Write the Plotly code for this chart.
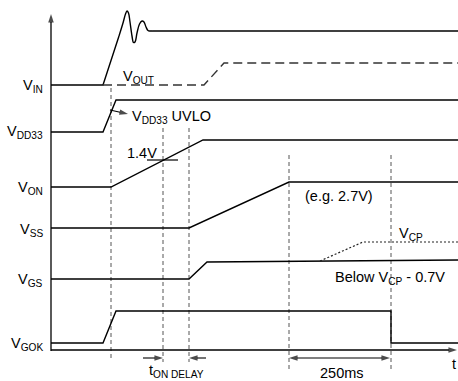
import plotly.graph_objects as go

# ---- waveform data (time in screen-like units, level in screen-like units, y grows downward)
VIN_T = [51, 103, 119]
VIN_V = [85, 85, 36]
VIN_RING_T = [119, 123, 125.5, 127, 128.5, 130, 132, 133.5, 135, 137, 139.5, 142, 144, 146, 148, 150, 153]
VIN_RING_V = [36, 23, 14, 11, 13, 22, 36, 42.5, 42, 33, 24, 21, 22, 27, 30.5, 31, 31]
VIN_END_T = [153, 458]
VIN_END_V = [31, 31]

VOUT_T = [103, 204, 224, 458]
VOUT_V = [85, 85, 63, 63]

VDD33_T = [51, 103, 116, 458]
VDD33_V = [132, 132, 100, 100]

VON_T = [51, 111, 203, 458]
VON_V = [187, 187, 140, 140]

VSS_T = [51, 189, 289, 458]
VSS_V = [228, 228, 182, 182]

VGS_T = [51, 189, 207, 458]
VGS_V = [279, 279, 262, 260]

VCP_T = [320, 363, 458]
VCP_V = [261, 242, 242]

VGOK_T = [51, 103, 116, 391, 391, 458]
VGOK_V = [343, 343, 311, 311, 343, 343]

TH_14_T = [147, 178]
TH_14_V = [160, 160]

# dashed timing markers: (time, top, bottom)
MARK_T = [111, 163, 189, 289, 391]
MARK_TOP = [88, 128, 128, 155, 155]
MARK_BOT = [358, 362, 362, 372, 372]

# arrows: (tail_t, tail_v, head_t, head_v)
ARROWS = [
    (51, 351, 51, 14),      # level axis
    (51, 350, 457, 350),    # time axis
    (110, 110, 128, 114),   # VDD33 UVLO pointer
    (143, 358, 163, 358),   # tON DELAY left
    (206, 358, 189, 358),   # tON DELAY right
    (340, 358, 390, 358),   # 250ms right half
    (340, 358, 289, 358),   # 250ms left half
]
ARROW_W = [1.3, 1.3, 1.1, 1.1, 1.1, 1.1, 1.1]

SIG_LABELS = ["V<sub>IN</sub>", "V<sub>DD33</sub>", "V<sub>ON</sub>", "V<sub>SS</sub>", "V<sub>GS</sub>", "V<sub>GOK</sub>"]
SIG_LABEL_Y = [86, 132, 188, 230, 280, 344]

FONT = "Liberation Sans, Arial, sans-serif"
FS = 14.5

fig = go.Figure()


def line(t, v, dash="solid", width=1.4, color="black", shape="linear"):
    fig.add_trace(go.Scatter(x=t, y=v, mode="lines",
                             line=dict(color=color, width=width, dash=dash, shape=shape),
                             hoverinfo="skip"))


for t, top, bot in zip(MARK_T, MARK_TOP, MARK_BOT):
    line([t, t], [top, bot], dash="4px,3px", width=1, color="#555555")

line(VIN_T, VIN_V)
line(VIN_RING_T, VIN_RING_V, shape="spline")
line(VIN_END_T, VIN_END_V)
line(VOUT_T, VOUT_V, dash="9px,5px", color="#333333")
line(VDD33_T, VDD33_V)
line(VON_T, VON_V)
line(VSS_T, VSS_V)
line(VGS_T, VGS_V)
line(VCP_T, VCP_V, dash="2px,2px", width=1.2, color="#222222")
line(VGOK_T, VGOK_V)
line(TH_14_T, TH_14_V, width=1.2)

for (t0, v0, t1, v1), w in zip(ARROWS, ARROW_W):
    fig.add_trace(go.Scatter(
        x=[t0, t1], y=[v0, v1], mode="lines+markers",
        line=dict(color="black", width=w),
        marker=dict(symbol=["circle", "arrow"], size=[0, 9], color="black",
                    angleref="previous", line=dict(width=0), standoff=0),
        hoverinfo="skip"))

ann = []


def text(x, y, s, xanchor="center", size=FS):
    ann.append(dict(x=x, y=y, text=s, showarrow=False, xanchor=xanchor, yanchor="middle",
                    font=dict(family=FONT, size=size, color="black")))


for s, y in zip(SIG_LABELS, SIG_LABEL_Y):
    text(45, y, s, xanchor="right")

text(138, 77, "V<sub>OUT</sub>")
text(130, 117, "V<sub>DD33</sub> UVLO", xanchor="left")
text(142, 153, "1.4V")
text(339, 196, "(e.g. 2.7V)")
text(411, 234, "V<sub>CP</sub>")
text(390, 278, "Below V<sub>CP</sub> - 0.7V")
text(176, 371, "t<sub>ON DELAY</sub>")
text(342, 373, "250ms")
text(454, 364, "t")

fig.update_layout(
    width=458, height=381, autosize=False,
    margin=dict(l=0, r=0, t=0, b=0),
    paper_bgcolor="white", plot_bgcolor="white",
    showlegend=False,
    xaxis=dict(range=[0, 458], visible=False, fixedrange=True),
    yaxis=dict(range=[381, 0], visible=False, fixedrange=True),
    annotations=ann,
)

fig.write_html(
    "out.html",
    config={"displayModeBar": False},
    post_script="document.body.style.margin='0';document.body.style.overflow='hidden';",
)
